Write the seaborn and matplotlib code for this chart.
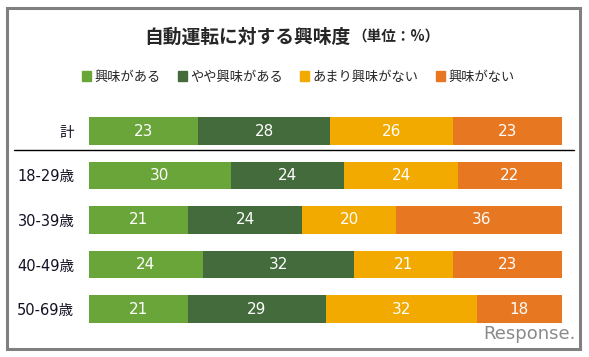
import matplotlib
matplotlib.use("Agg")
import matplotlib.pyplot as plt
from matplotlib.patches import Rectangle
from matplotlib.lines import Line2D
import seaborn as sns
import pandas as pd

# data
groups = ["計", "18-29歳", "30-39歳", "40-49歳", "50-69歳"]
series = ["興味がある", "やや興味がある", "あまり興味がない", "興味がない"]
very = [23, 30, 21, 24, 21]
some = [28, 24, 24, 32, 29]
not_much = [26, 24, 20, 21, 32]
none = [23, 22, 36, 23, 18]
colors = ["#6aa539", "#436b3c", "#f2a900", "#e87722"]

sns.set_style("white")
plt.rcParams['font.family'] = ['Noto Sans CJK JP', 'DejaVu Sans']

df = pd.DataFrame({"group": groups, series[0]: very, series[1]: some,
                   series[2]: not_much, series[3]: none})
cum = df[series].cumsum(axis=1)

W, H = 589, 357
fig = plt.figure(figsize=(W / 100, H / 100), dpi=100)
ax = fig.add_axes([89 / W, 1 - 331.25 / H, 473 / W, 222.5 / H])

# stacked bars: draw the running totals from the longest to the shortest
for s, c in reversed(list(zip(series, colors))):
    sns.barplot(x=cum[s], y=df["group"], orient="h", color=c, saturation=1,
                width=0.62, linewidth=0, ax=ax, label=s)

for i, row in df.iterrows():
    left = 0
    for s in series:
        v = row[s]
        ax.text(left + v / 2, i, str(v), ha="center", va="center",
                color="white", fontsize=11, family="DejaVu Sans")
        left += v

ax.set_xlim(0, 100)
ax.set_ylim(4.5, -0.5)
ax.set_xlabel("")
ax.set_ylabel("")
ax.tick_params(left=False, bottom=False, labelbottom=False, pad=7)
for lab in ax.get_yticklabels():
    lab.set_fontsize(10.5)
    lab.set_color("#111122")
    lab.set_family(['DejaVu Sans', 'Noto Sans CJK JP'])
sns.despine(ax=ax, left=True, bottom=True)
if ax.get_legend():
    ax.get_legend().remove()

# legend
handles = [Rectangle((0, 0), 1, 1, color=c) for c in colors]
fig.legend(handles, series, loc="center", bbox_to_anchor=(298 / W, 1 - 77 / H),
           ncol=4, frameon=False, fontsize=9.5, handlelength=0.7,
           handleheight=0.7, handletextpad=0.25, columnspacing=1.3)

# title
fig.text(351 / W, 1 - 37 / H, "自動運転に対する興味度", ha="right", va="center",
         fontsize=13.5, fontweight="bold")
fig.text(352 / W, 1 - 37 / H, "（単位：%）", ha="left", va="center",
         fontsize=10.5, fontweight="bold")

# separator and frame
fig.add_artist(Line2D([14 / W, 574 / W], [1 - 150 / H] * 2, color="black", lw=1))
fig.add_artist(Rectangle((6.5 / W, 1 - 348.5 / H), 573 / W, 341 / H,
                         fill=False, edgecolor="#808080", lw=2.2,
                         transform=fig.transFigure))
fig.text(576 / W, 1 - 334 / H, "Response.", ha="right", va="center",
         fontsize=13, color="#8a8a8a", family="DejaVu Sans")

fig.savefig("out.png", dpi=100)
